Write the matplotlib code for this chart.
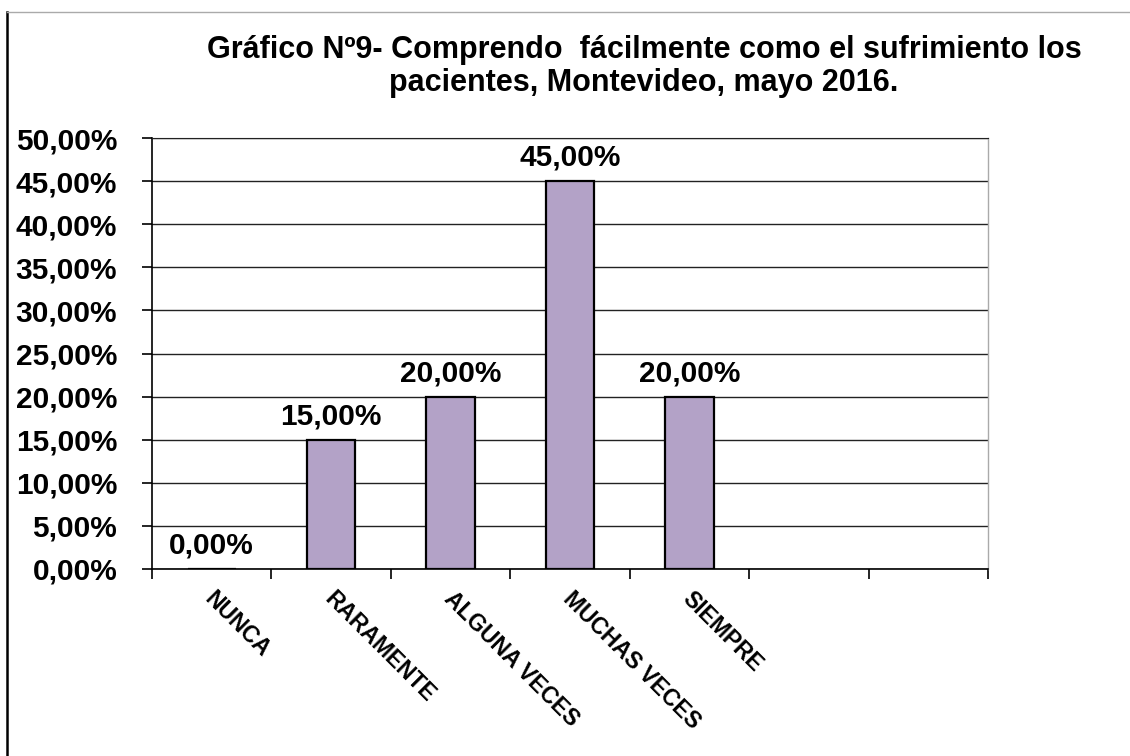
"""Gráfico Nº9 - barras de porcentaje por categoría."""

import matplotlib

matplotlib.use("Agg")
import matplotlib.pyplot as plt
import numpy as np
from matplotlib.lines import Line2D
from matplotlib.ticker import FuncFormatter, MultipleLocator

plt.rcParams["font.family"] = ["Liberation Sans", "DejaVu Sans"]
plt.rcParams["font.weight"] = "bold"

CATEGORIES = ["NUNCA", "RARAMENTE", "ALGUNA VECES", "MUCHAS VECES", "SIEMPRE", "", ""]
VALUES = [0.0, 15.0, 20.0, 45.0, 20.0, None, None]
TITLE_LINES = ["Gráfico Nº9- Comprendo  fácilmente como el sufrimiento los",
               "pacientes, Montevideo, mayo 2016."]

BAR_COLOR = "#b3a2c7"


def pct(v, _pos=None):
    return f"{v:.2f}%".replace(".", ",")


fig = plt.figure(figsize=(11.3, 7.56), dpi=100)
ax = fig.add_axes([152 / 1130, 1 - 569 / 756, (988 - 152) / 1130, (569 - 138) / 756])

x = np.arange(len(CATEGORIES))
shown = [i for i, v in enumerate(VALUES) if v is not None]
heights = [VALUES[i] for i in shown]

ax.bar([x[i] for i in shown], heights, width=0.405, color=BAR_COLOR,
       edgecolor="black", linewidth=1.6, zorder=3)

for i, v in zip(shown, heights):
    ax.annotate(pct(v), (x[i], v), xytext=(0, 11), textcoords="offset points",
                ha="center", va="baseline", fontsize=21.5, fontweight="bold")

ax.set_xlim(-0.5, len(CATEGORIES) - 0.5)
ax.set_ylim(0, 50)
ax.yaxis.set_major_locator(MultipleLocator(5))
ax.yaxis.set_major_formatter(FuncFormatter(pct))
ax.grid(axis="y", color="#222222", linewidth=1.0, zorder=0)

# ticks at category edges, labels at category centres
ax.set_xticks(np.arange(len(CATEGORIES) + 1) - 0.5)
ax.set_xticklabels([])
ax.set_xticks(x + 0.04, labels=CATEGORIES, minor=True)
ax.tick_params(axis="x", which="major", direction="out", length=7, width=1.2)
ax.tick_params(axis="x", which="minor", length=0, pad=13, labelsize=16.5)
for lbl in ax.get_xticklabels(minor=True):
    lbl.set_rotation(-45)
    lbl.set_rotation_mode("anchor")
    lbl.set_ha("left")
    lbl.set_va("top")
    lbl.set_fontweight("bold")

ax.tick_params(axis="y", direction="out", length=7, width=1.2, pad=18, labelsize=21.5)
for lbl in ax.get_yticklabels():
    lbl.set_fontweight("bold")

for side in ("left", "bottom"):
    ax.spines[side].set_color("black")
    ax.spines[side].set_linewidth(1.2)
ax.spines["top"].set_color("#222222")
ax.spines["right"].set_color("#aaaaaa")
ax.spines["right"].set_linewidth(1.0)

for line, y_px in zip(TITLE_LINES, (58, 91)):
    fig.text(644 / 1130, 1 - y_px / 756, line, ha="center", va="baseline",
             fontsize=22, fontweight="bold")

# outer frame of the chart area
fig.add_artist(Line2D([7 / 1130, 7 / 1130], [0, 1 - 12 / 756],
                      transform=fig.transFigure, color="black", linewidth=1.8))
fig.add_artist(Line2D([7 / 1130, 1], [1 - 12 / 756, 1 - 12 / 756],
                      transform=fig.transFigure, color="#aaaaaa", linewidth=1.0))

fig.savefig("out.png", dpi=100, facecolor="white")
